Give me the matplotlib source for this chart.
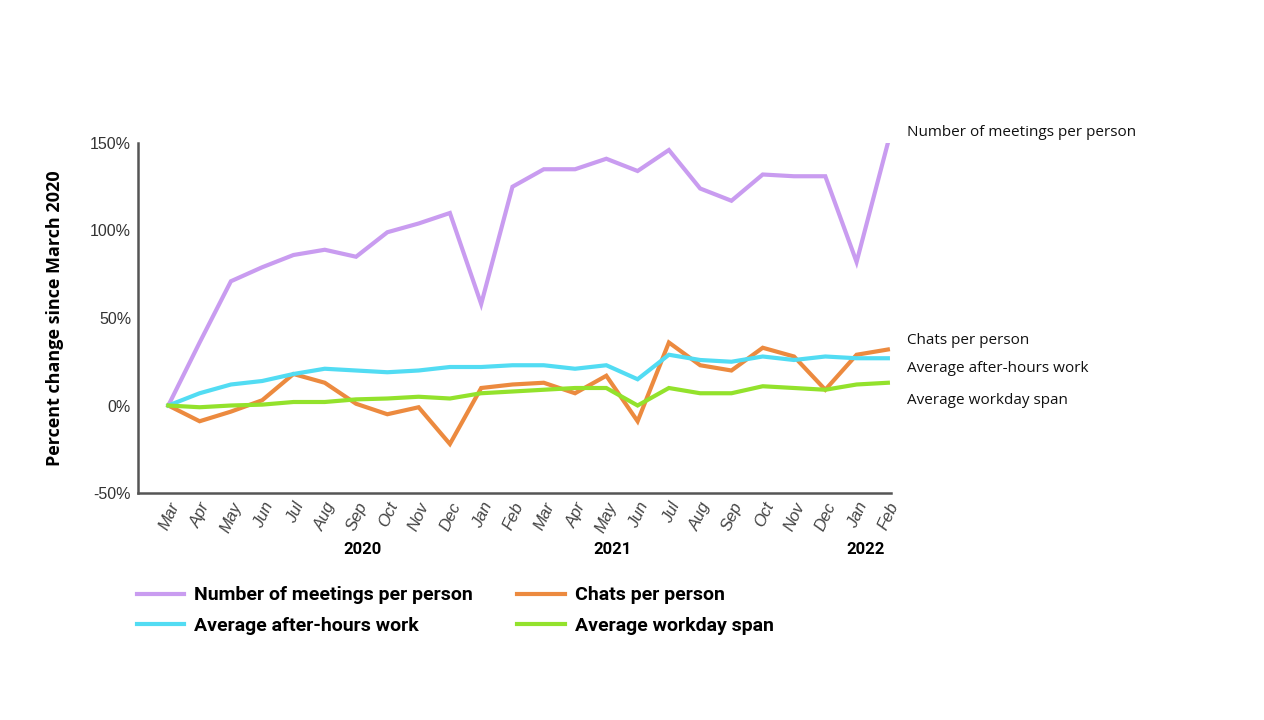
import matplotlib
matplotlib.use("Agg")
import matplotlib.pyplot as plt
import matplotlib.transforms as mtransforms
from matplotlib.ticker import FuncFormatter

months = ["Mar", "Apr", "May", "Jun", "Jul", "Aug", "Sep", "Oct", "Nov", "Dec", "Jan", "Feb",
          "Mar", "Apr", "May", "Jun", "Jul", "Aug", "Sep", "Oct", "Nov", "Dec", "Jan", "Feb"]
years = ["2020", "2021", "2022"]

meetings = [0, 36, 71, 79, 86, 89, 85, 99, 104, 110, 58, 125,
            135, 135, 141, 134, 146, 124, 117, 132, 131, 131, 82, 150]
chats = [0, -9, -3.5, 3, 18, 13, 1, -5, -1, -22, 10, 12,
         13, 7, 17, -9, 36, 23, 20, 33, 28, 9, 29, 32]
after_hours = [0, 7, 12, 14, 18, 21, 20, 19, 20, 22, 22, 23,
               23, 21, 23, 15, 29, 26, 25, 28, 26, 28, 27, 27]
workday_span = [0, -1, 0, 0.5, 2, 2, 3.5, 4, 5, 4, 7, 8,
                9, 10, 10, 0, 10, 7, 7, 11, 10, 9, 12, 13]

series_names = ["Number of meetings per person", "Chats per person",
                "Average after-hours work", "Average workday span"]
colors = ["#c99cf0", "#ec8a3f", "#52dcf3", "#93e22c"]

fig = plt.figure(figsize=(12.64, 7.2), dpi=100)
ax = fig.add_axes([138 / 1264, 1 - 493 / 720, (891 - 138) / 1264, (493 - 143) / 720])

x = list(range(len(months)))
lines = []
for vals, name, c in zip([meetings, chats, after_hours, workday_span], series_names, colors):
    ln, = ax.plot(x, vals, color=c, lw=3.0, label=name, solid_joinstyle="miter")
    lines.append(ln)

ax.set_xlim(-0.97, 23.1)
ax.set_ylim(-50, 150)
ax.set_yticks([-50, 0, 50, 100, 150])
ax.yaxis.set_major_formatter(FuncFormatter(lambda v, p: f"{int(v)}%"))
ax.tick_params(axis="y", length=0, pad=5, labelsize=11.5, labelcolor="#333333")
ax.tick_params(axis="x", length=0, pad=5)
for lab in ax.get_yticklabels():
    lab.set_family("Liberation Sans")

ax.set_xticks(x)
ax.set_xticklabels(months, rotation=65, ha="right", va="top", rotation_mode="anchor",
                   fontsize=12, style="italic", color="#444444", family="Liberation Sans")

for s in ["top", "right"]:
    ax.spines[s].set_visible(False)
for s in ["left", "bottom"]:
    ax.spines[s].set_color("#555555")
    ax.spines[s].set_linewidth(1.8)

ax.set_ylabel("Percent change since March 2020", fontsize=13, fontweight="bold",
              family=["Open Sans", "DejaVu Sans"], labelpad=19)

# year labels under the month ticks
trans = mtransforms.blended_transform_factory(ax.transData, ax.transAxes)
for xp, yr in zip([6.2, 14.2, 22.3], years):
    ax.text(xp, -0.162, yr, transform=trans, ha="center", va="center", fontsize=12,
            fontweight="bold", family=["Roboto", "DejaVu Sans"])

# labels to the right of the plot
right_y = [132, 340, 369, 401]
for name, yy in zip(series_names, right_y):
    fig.text(907 / 1264, 1 - yy / 720, name, ha="left", va="center", fontsize=11,
             family=["Open Sans", "DejaVu Sans"], color="#111111")

order = [0, 2, 1, 3]
leg = fig.legend([lines[i] for i in order], [series_names[i] for i in order],
                 loc="upper left", bbox_to_anchor=(119 / 1264, 1 - 569 / 720), ncol=2,
                 frameon=False, handlelength=2.45, handletextpad=0.5, columnspacing=2.3,
                 labelspacing=0.62,
                 prop={"family": ["Roboto", "DejaVu Sans"], "weight": "bold", "size": 14})

fig.savefig("out.png", dpi=100, facecolor="white")
